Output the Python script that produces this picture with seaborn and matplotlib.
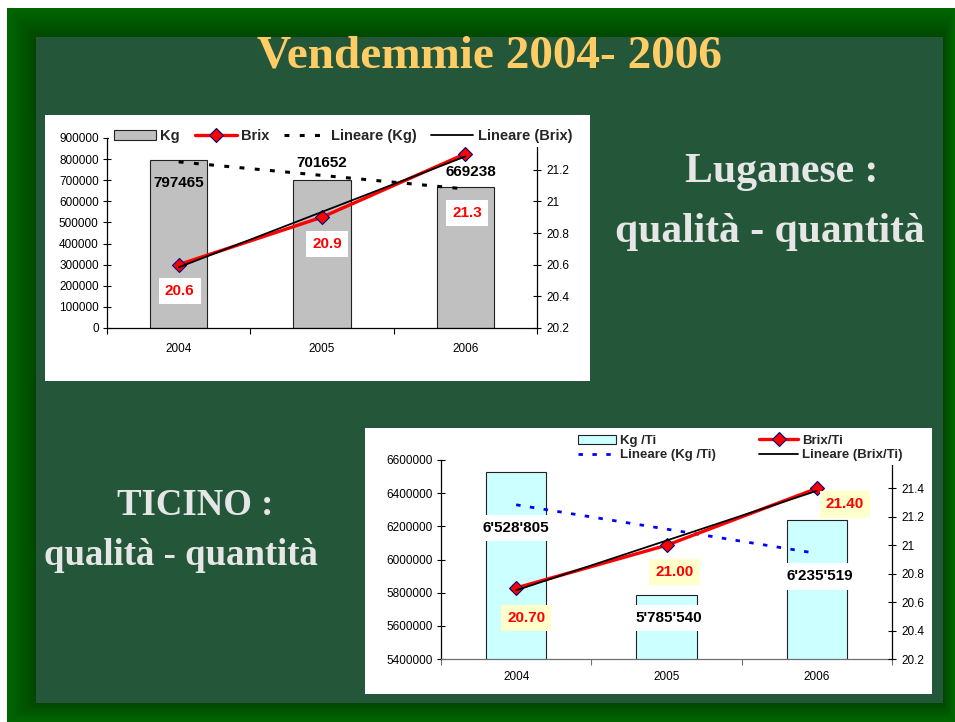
import numpy as np
import pandas as pd
import seaborn as sns
import matplotlib
matplotlib.use('Agg')
import matplotlib.pyplot as plt
from matplotlib.patches import Rectangle, Patch
from matplotlib.lines import Line2D
from matplotlib.ticker import FuncFormatter, FixedLocator

# --- data ---
years = ['2004', '2005', '2006']
kg_lugano = [797465, 701652, 669238]
brix_lugano = [20.6, 20.9, 21.3]
kg_ticino = [6528805, 5785540, 6235519]
brix_ticino = [20.70, 21.00, 21.40]

sns.set_theme(style="ticks")
plt.rcParams['font.family'] = ['Liberation Sans', 'DejaVu Sans']

W, H = 955, 722
fig = plt.figure(figsize=(W / 100, H / 100), dpi=100)
fig.patch.set_facecolor('white')


def fx(px):
    return px / W


def fy(py):
    return 1 - py / H


def box(x0, y0, x1, y1, color, z):
    fig.add_artist(Rectangle((fx(x0), fy(y1)), fx(x1) - fx(x0), fy(y0) - fy(y1),
                             transform=fig.transFigure, facecolor=color,
                             edgecolor='none', zorder=z))


# slide background: bevelled green frame (bright outside, darker toward the panel)
outer = (7, 8, 955, 722)
inner = (36, 37, 943, 703)
steps = 10
for k in range(steps):
    t = k / (steps - 1)
    x0 = outer[0] + (inner[0] - outer[0]) * t * 0.95
    y0 = outer[1] + (inner[1] - outer[1]) * t * 0.95
    x1 = outer[2] + (inner[2] - outer[2]) * t * 0.95
    y1 = outer[3] + (inner[3] - outer[3]) * t * 0.95
    g = int(round(102 - 30 * t))
    box(x0, y0, x1, y1, '#00%02x00' % g, -6 + k * 0.01)
box(*inner, '#24573a', -3)
# white chart boxes
box(45, 115, 590, 381, 'white', -2)
box(365, 428, 932, 694, 'white', -2)

serif = ['Liberation Serif', 'DejaVu Serif']
fig.text(fx(489), fy(67), 'Vendemmie 2004- 2006', ha='center', va='baseline',
         family=serif, fontweight='bold', fontsize=34, color='#FFCC66')
fig.text(fx(782), fy(182), 'Luganese :', ha='center', va='baseline',
         family=serif, fontweight='bold', fontsize=30, color='#E6E6E6')
fig.text(fx(770), fy(242), 'qualità - quantità', ha='center', va='baseline',
         family=serif, fontweight='bold', fontsize=30, color='#E6E6E6')
fig.text(fx(195), fy(515), 'TICINO :', ha='center', va='baseline',
         family=serif, fontweight='bold', fontsize=26.5, color='#E6E6E6')
fig.text(fx(181), fy(565), 'qualità - quantità', ha='center', va='baseline',
         family=serif, fontweight='bold', fontsize=26.5, color='#E6E6E6')


def draw_chart(rect, kg, brix, kg_lim, kg_step, brix_lim, brix_top_tick,
               bar_color, kg_trend_color, kg_trend_lw, labels, kg_fmt, brix_fmt,
               kg_offsets, brix_offsets, kg_box, brix_box, legend_pos, ncol,
               legend_size, colspacing, label_pad, xaxis_color):
    ax = fig.add_axes(rect)
    ax.set_facecolor('none')
    idx = np.arange(len(years))
    df = pd.DataFrame({'Anno': years, 'Kg': kg, 'Brix': brix})

    sns.barplot(data=df, x='Anno', y='Kg', ax=ax, color=bar_color, width=0.4,
                saturation=1, edgecolor='#222222', linewidth=0.8)
    kg_fit = np.polyval(np.polyfit(idx, kg, 1), idx)
    ax.plot(idx, kg_fit, color=kg_trend_color, lw=kg_trend_lw,
            linestyle=(0, (1.6, 3.4)), dash_capstyle='butt', zorder=3)

    ax.set_xlim(-0.5, len(years) - 0.5)
    ax.set_ylim(*kg_lim)
    ax.set_yticks(np.arange(kg_lim[0], kg_lim[1] + 1, kg_step))
    ax.yaxis.set_major_formatter(FuncFormatter(lambda v, p: f'{v:.0f}'))
    ax.xaxis.set_minor_locator(FixedLocator(np.arange(-0.5, len(years), 1.0)))
    ax.tick_params(axis='x', which='major', length=0, labelsize=8.5, pad=label_pad,
                   colors='black')
    ax.tick_params(axis='x', which='minor', direction='out', length=4, width=0.8,
                   color=xaxis_color)
    ax.tick_params(axis='y', direction='inout', length=6, width=0.8,
                   labelsize=8.5, pad=3, colors='black')
    ax.set_xlabel('')
    ax.set_ylabel('')
    for s in ['top', 'right']:
        ax.spines[s].set_visible(False)
    ax.spines['left'].set_color('black')
    ax.spines['left'].set_linewidth(0.9)
    ax.spines['bottom'].set_color(xaxis_color)
    ax.spines['bottom'].set_linewidth(0.9)

    ax2 = ax.twinx()
    ax2.set_facecolor('none')
    sns.lineplot(x=idx, y=brix, ax=ax2, color='red', lw=2.4, marker='D',
                 markersize=7, markerfacecolor='red', markeredgecolor='#000080',
                 markeredgewidth=0.8, zorder=4)
    brix_fit = np.polyval(np.polyfit(idx, brix, 1), idx)
    ax2.plot(idx, brix_fit, color='black', lw=1.3, zorder=5)
    ax2.set_ylim(*brix_lim)
    ax2.set_yticks(np.round(np.arange(brix_lim[0], brix_top_tick + 0.01, 0.2), 1))
    ax2.yaxis.set_major_formatter(FuncFormatter(lambda v, p: f'{v:g}'))
    ax2.tick_params(axis='y', direction='inout', length=6, width=0.8,
                    labelsize=8.5, pad=4, colors='black')
    ax2.set_xlabel('')
    ax2.set_ylabel('')
    for s in ['top', 'left', 'bottom']:
        ax2.spines[s].set_visible(False)
    ax2.spines['right'].set_color('black')
    ax2.spines['right'].set_linewidth(0.9)

    px = 0.72  # pixels -> points at 100 dpi
    for i, v in enumerate(kg):
        dx, dy = kg_offsets[i]
        ax.annotate(kg_fmt(v), xy=(i, v), xytext=(dx * px, dy * px),
                    textcoords='offset points', ha='center', va='center',
                    fontsize=11, fontweight='bold', color='black', zorder=6,
                    bbox=dict(boxstyle='square,pad=0.4', fc='white', ec='none')
                    if kg_box else None)
    for i, v in enumerate(brix):
        dx, dy = brix_offsets[i]
        ax2.annotate(brix_fmt(v), xy=(i, v), xytext=(dx * px, dy * px),
                     textcoords='offset points', ha='center', va='center',
                     fontsize=11, fontweight='bold', color='red', zorder=7,
                     bbox=dict(boxstyle='square,pad=0.4', fc=brix_box, ec='none'))

    handles = [
        Patch(facecolor=bar_color, edgecolor='#222222', linewidth=0.8, label=labels[0]),
        Line2D([], [], color='red', lw=2.4, marker='D', markersize=7,
               markerfacecolor='red', markeredgecolor='#000080',
               markeredgewidth=0.8, label=labels[1]),
        Line2D([], [], color=kg_trend_color, lw=kg_trend_lw,
               linestyle=(0, (1.6, 3.4)), dash_capstyle='butt', label=labels[2]),
        Line2D([], [], color='black', lw=1.3, label=labels[3]),
    ]
    if ncol == 2:
        handles = [handles[0], handles[2], handles[1], handles[3]]
    leg = ax2.legend(handles=handles, loc='center', bbox_to_anchor=(fx(legend_pos[0]), fy(legend_pos[1])),
                     bbox_transform=fig.transFigure, ncol=ncol, frameon=True,
                     framealpha=1, facecolor='white', edgecolor='none', fancybox=False,
                     prop={'weight': 'bold', 'size': legend_size}, handlelength=2.9,
                     handletextpad=0.3, columnspacing=colspacing, borderpad=0.3,
                     labelspacing=0.15, borderaxespad=0)
    leg.set_zorder(10)
    return ax, ax2


# Luganese chart
draw_chart([fx(107), fy(328), fx(537) - fx(107), fy(138) - fy(328)],
           kg_lugano, brix_lugano, (0, 900000), 100000, (20.2, 21.4), 21.2,
           '#C0C0C0', 'black', 2.2,
           ['Kg', 'Brix', 'Lineare (Kg)', 'Lineare (Brix)'],
           lambda v: f'{v}', lambda v: f'{v:.1f}',
           [(0, -23), (0, 17), (6, 15)], [(1, -26), (5, -27), (2, -59)],
           False, 'white', (343, 136), 4, 10.5, 1.0, 11, 'black')

# Ticino chart
draw_chart([fx(441), fy(659), fx(892) - fx(441), fy(460) - fy(659)],
           kg_ticino, brix_ticino, (5400000, 6600000), 200000, (20.2, 21.6), 21.4,
           '#CCFFFF', '#0000FF', 2.0,
           ['Kg /Ti', 'Brix/Ti', 'Lineare (Kg /Ti)', 'Lineare (Brix/Ti)'],
           lambda v: f'{v:,}'.replace(',', "'"), lambda v: f'{v:.2f}',
           [(0, -56), (2, -23), (3, -56)], [(10, -30), (8, -27), (28, -16)],
           True, '#FFFFCC', (740, 448), 2, 9.5, 3.3, 9, '#707070')

fig.savefig('out.png', dpi=100)
